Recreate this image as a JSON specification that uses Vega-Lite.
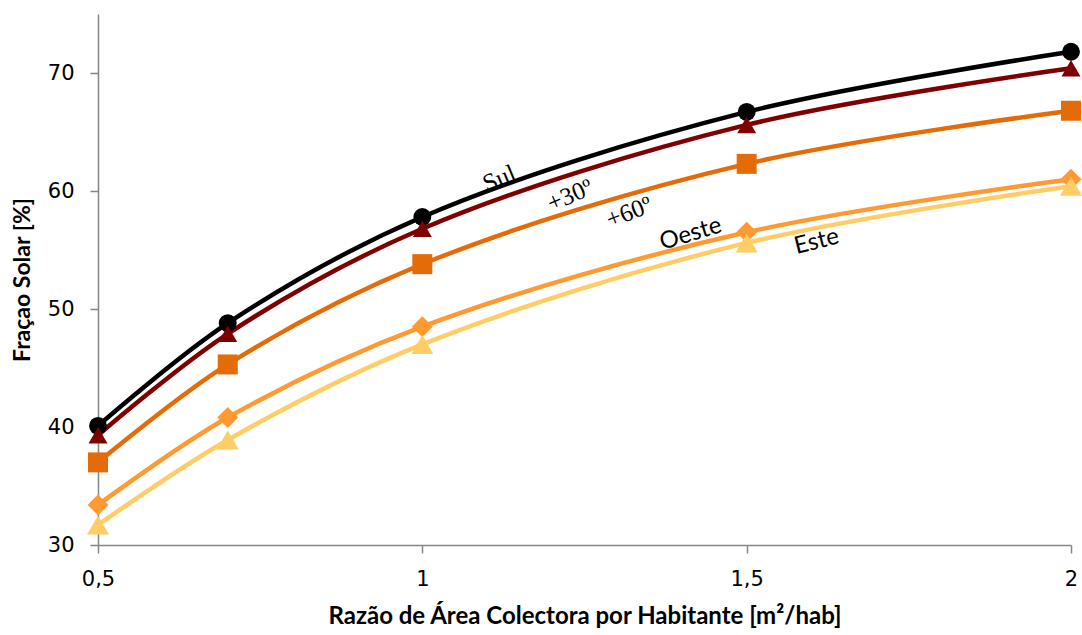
{
  "$schema": "https://vega.github.io/schema/vega-lite/v6.json",
  "width": 973,
  "height": 531,
  "autosize": {"type": "none"},
  "padding": {"left": 98, "top": 14, "right": 11, "bottom": 90},
  "background": "white",
  "config": {"view": {"stroke": null}},
  "datasets": {
    "series": [
      {"serie": "Sul", "area": 0.5, "fracao": 40.1},
      {"serie": "Sul", "area": 0.7, "fracao": 48.8},
      {"serie": "Sul", "area": 1.0, "fracao": 57.8},
      {"serie": "Sul", "area": 1.5, "fracao": 66.7},
      {"serie": "Sul", "area": 2.0, "fracao": 71.8},
      {"serie": "+30º", "area": 0.5, "fracao": 39.3},
      {"serie": "+30º", "area": 0.7, "fracao": 47.9},
      {"serie": "+30º", "area": 1.0, "fracao": 56.8},
      {"serie": "+30º", "area": 1.5, "fracao": 65.6},
      {"serie": "+30º", "area": 2.0, "fracao": 70.4},
      {"serie": "+60º", "area": 0.5, "fracao": 37.0},
      {"serie": "+60º", "area": 0.7, "fracao": 45.3},
      {"serie": "+60º", "area": 1.0, "fracao": 53.8},
      {"serie": "+60º", "area": 1.5, "fracao": 62.3},
      {"serie": "+60º", "area": 2.0, "fracao": 66.8},
      {"serie": "Oeste", "area": 0.5, "fracao": 33.4},
      {"serie": "Oeste", "area": 0.7, "fracao": 40.8},
      {"serie": "Oeste", "area": 1.0, "fracao": 48.5},
      {"serie": "Oeste", "area": 1.5, "fracao": 56.5},
      {"serie": "Oeste", "area": 2.0, "fracao": 61.0},
      {"serie": "Este", "area": 0.5, "fracao": 31.7},
      {"serie": "Este", "area": 0.7, "fracao": 38.9},
      {"serie": "Este", "area": 1.0, "fracao": 47.0},
      {"serie": "Este", "area": 1.5, "fracao": 55.6},
      {"serie": "Este", "area": 2.0, "fracao": 60.4}
    ],
    "labels": [
      {"label": "Sul", "area": 1.1186, "fracao": 61.06},
      {"label": "+30º", "area": 1.2276, "fracao": 59.64},
      {"label": "+60º", "area": 1.3186, "fracao": 58.21},
      {"label": "Oeste", "area": 1.4137, "fracao": 56.35},
      {"label": "Este", "area": 1.6079, "fracao": 55.7}
    ]
  },
  "layer": [
    {
      "data": {"name": "series"},
      "mark": {"type": "line", "interpolate": "catmull-rom", "strokeWidth": 4.5, "clip": false},
      "encoding": {
        "x": {
          "field": "area", "type": "quantitative",
          "scale": {"domain": [0.5, 2], "nice": false, "zero": false},
          "axis": {
            "values": [0.5, 1, 1.5, 2],
            "labelExpr": "replace(toString(datum.value), '.', ',')",
            "grid": false,
            "title": "Razão de Área Colectora por Habitante [m²/hab]",
            "titleFont": "Lato", "titleFontSize": 24, "titleFontWeight": "bold", "titleColor": "#000000",
            "titlePadding": 15,
            "labelFont": "DejaVu Sans", "labelFontSize": 21, "labelColor": "#000000", "labelPadding": 15,
            "labelFlush": false,
            "domainColor": "#868686", "domainWidth": 1.5,
            "tickColor": "#868686", "tickWidth": 1.5, "tickSize": 8
          }
        },
        "y": {
          "field": "fracao", "type": "quantitative",
          "scale": {"domain": [30, 75], "nice": false, "zero": false},
          "axis": {
            "values": [30, 40, 50, 60, 70],
            "grid": false,
            "title": "Fraçao Solar [%]",
            "titleFont": "Lato", "titleFontSize": 23, "titleFontWeight": "bold", "titleColor": "#000000",
            "titlePadding": 13,
            "labelFont": "DejaVu Sans", "labelFontSize": 21, "labelColor": "#000000", "labelPadding": 16,
            "labelFlush": false,
            "domainColor": "#868686", "domainWidth": 1.5,
            "tickColor": "#868686", "tickWidth": 1.5, "tickSize": 8
          }
        },
        "color": {
          "field": "serie", "type": "nominal",
          "scale": {"domain": ["Sul", "+30º", "+60º", "Oeste", "Este"], "range": ["#000000", "#7F0000", "#E36C09", "#FF9A33", "#FFCC66"]},
          "legend": null
        }
      }
    },
    {
      "data": {"name": "series"},
      "mark": {"type": "point", "filled": true, "opacity": 1, "clip": false},
      "encoding": {
        "x": {"field": "area", "type": "quantitative"},
        "y": {"field": "fracao", "type": "quantitative"},
        "color": {"field": "serie", "type": "nominal", "legend": null},
        "shape": {
          "field": "serie", "type": "nominal",
          "scale": {"domain": ["Sul", "+30º", "+60º", "Oeste", "Este"], "range": ["circle", "triangle-up", "square", "diamond", "triangle-up"]},
          "legend": null
        },
        "size": {
          "field": "serie", "type": "nominal",
          "scale": {"domain": ["Sul", "+30º", "+60º", "Oeste", "Este"], "range": [320, 480, 340, 480, 480]},
          "legend": null
        }
      }
    },
    {
      "data": {"name": "labels"},
      "transform": [{"filter": "datum.label === 'Sul'"}],
      "mark": {"type": "text", "font": "Liberation Serif", "fontSize": 25, "angle": -23, "align": "center", "baseline": "middle", "color": "#000000"},
      "encoding": {"x": {"field": "area", "type": "quantitative"}, "y": {"field": "fracao", "type": "quantitative"}, "text": {"field": "label"}}
    },
    {
      "data": {"name": "labels"},
      "transform": [{"filter": "datum.label === '+30º'"}],
      "mark": {"type": "text", "font": "Liberation Serif", "fontSize": 25, "angle": -23, "align": "center", "baseline": "middle", "color": "#000000"},
      "encoding": {"x": {"field": "area", "type": "quantitative"}, "y": {"field": "fracao", "type": "quantitative"}, "text": {"field": "label"}}
    },
    {
      "data": {"name": "labels"},
      "transform": [{"filter": "datum.label === '+60º'"}],
      "mark": {"type": "text", "font": "Liberation Serif", "fontSize": 25, "angle": -21, "align": "center", "baseline": "middle", "color": "#000000"},
      "encoding": {"x": {"field": "area", "type": "quantitative"}, "y": {"field": "fracao", "type": "quantitative"}, "text": {"field": "label"}}
    },
    {
      "data": {"name": "labels"},
      "transform": [{"filter": "datum.label === 'Oeste'"}],
      "mark": {"type": "text", "font": "Lato", "fontSize": 24, "angle": -17, "align": "center", "baseline": "middle", "color": "#000000"},
      "encoding": {"x": {"field": "area", "type": "quantitative"}, "y": {"field": "fracao", "type": "quantitative"}, "text": {"field": "label"}}
    },
    {
      "data": {"name": "labels"},
      "transform": [{"filter": "datum.label === 'Este'"}],
      "mark": {"type": "text", "font": "Lato", "fontSize": 24, "angle": -14, "align": "center", "baseline": "middle", "color": "#000000"},
      "encoding": {"x": {"field": "area", "type": "quantitative"}, "y": {"field": "fracao", "type": "quantitative"}, "text": {"field": "label"}}
    }
  ]
}
